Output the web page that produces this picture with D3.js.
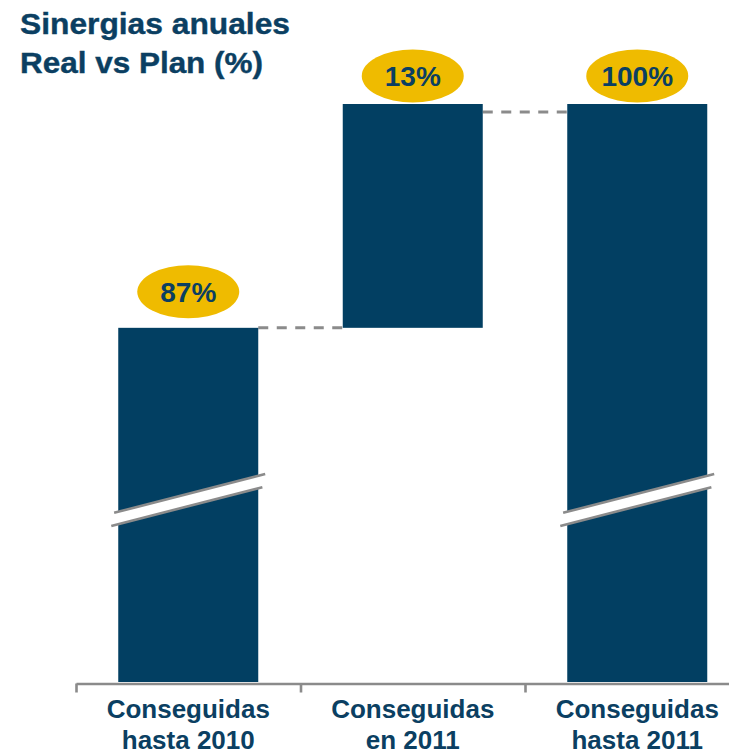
<!DOCTYPE html>
<html>
<head>
<meta charset="utf-8">
<script src="https://cdn.jsdelivr.net/npm/d3@7"></script>
<style>
  html, body { margin: 0; padding: 0; background: #ffffff; }
  svg { display: block; }
  text { font-family: "Liberation Sans", Arial, Helvetica, sans-serif; font-weight: bold; }
</style>
</head>
<body>
<svg id="chart" width="729" height="756"></svg>
<script>
// Annual synergies, actual vs plan (%), shown as a waterfall
const titleLines = ["Sinergias anuales", "Real vs Plan (%)"];
const categories = ["hasta2010", "en2011", "hasta2011"];
const categoryLabels = [["Conseguidas", "hasta 2010"], ["Conseguidas", "en 2011"], ["Conseguidas", "hasta 2011"]];
const values = [87, 13, 100];
const kinds = ["total", "delta", "total"];
const breakValue = 77; // the value axis is cut here for the two full bars

const navy = "#023f62";
const textNavy = "#0b3f62";
const gold = "#efbb00";
const grey = "#8b8b8b";

const svg = d3.select("#chart");
const plot = { left: 76, right: 749.5, top: 104, bottom: 682 };

// running base for each bar
let running = 0;
const bars = values.map((v, i) => {
  const base = kinds[i] === "delta" ? running : 0;
  const top = base + v;
  running = top;
  return { id: categories[i], value: v, base, top, kind: kinds[i], labels: categoryLabels[i], i };
});

const x = d3.scaleBand().domain(categories).range([plot.left, plot.right]).padding(0);
// piecewise scale: compressed below the break, full resolution above it
const y = d3.scaleLinear().domain([0, breakValue, 100]).range([plot.bottom, 500, plot.top]);
const barW = 140;
const cx = id => x(id) + x.bandwidth() / 2;

// title
svg.append("g").selectAll("text").data(titleLines).join("text")
  .attr("x", 20)
  .attr("y", (d, i) => 34 + i * 39)
  .attr("font-size", 29)
  .attr("fill", textNavy)
  .attr("stroke", textNavy)
  .attr("stroke-width", 0.4)
  .attr("textLength", (d, i) => i === 0 ? 270 : 243)
  .attr("lengthAdjust", "spacingAndGlyphs")
  .text(d => d);

// dashed connectors between consecutive bar tops
const connectors = bars.slice(0, -1).map((b, i) => ({ from: b, to: bars[i + 1], level: b.top, nudge: i === 0 ? 0 : 8 }));
svg.append("g").selectAll("line").data(connectors).join("line")
  .attr("x1", d => cx(d.from.id) + barW / 2)
  .attr("x2", d => cx(d.to.id) - barW / 2)
  .attr("y1", d => y(d.level) + d.nudge)
  .attr("y2", d => y(d.level) + d.nudge)
  .attr("stroke", grey)
  .attr("stroke-width", 3)
  .attr("stroke-dasharray", "10,8.5");

// bars
svg.append("g").selectAll("rect").data(bars).join("rect")
  .attr("x", d => cx(d.id) - barW / 2)
  .attr("y", d => y(d.top))
  .attr("width", barW)
  .attr("height", d => y(d.base) - y(d.top))
  .attr("fill", navy);

// axis-break marks on the bars that start at zero
const breaks = svg.append("g").selectAll("g").data(bars.filter(d => d.base < breakValue && d.top > breakValue)).join("g")
  .attr("transform", d => `translate(${cx(d.id)},${y(breakValue)}) rotate(-14.4)`);
breaks.append("polygon")
  .attr("points", "-75,-6 81,-6 75,6 -81,6")
  .attr("fill", "#ffffff");
breaks.append("line")
  .attr("x1", -75).attr("x2", 81).attr("y1", -6).attr("y2", -6)
  .attr("stroke", grey).attr("stroke-width", 2.6);
breaks.append("line")
  .attr("x1", -81).attr("x2", 75).attr("y1", 6).attr("y2", 6)
  .attr("stroke", grey).attr("stroke-width", 2.6);

// value badges
const badges = svg.append("g").selectAll("g").data(bars).join("g")
  .attr("transform", d => `translate(${cx(d.id)},${y(d.top) - (d.i === 0 ? 36 : 28)})`);
badges.append("ellipse")
  .attr("rx", 51).attr("ry", 26.5)
  .attr("fill", gold);
badges.append("text")
  .attr("text-anchor", "middle")
  .attr("y", 10)
  .attr("font-size", 28)
  .attr("fill", textNavy)
  .text(d => `${d.value}%`);

// category axis with ticks on the band edges
const edge = d3.scaleLinear().domain([0, categories.length]).range([plot.left, plot.right]);
const axis = svg.append("g")
  .attr("transform", `translate(0,${plot.bottom + 1.5})`)
  .call(d3.axisBottom(edge).tickValues(d3.range(categories.length + 1)).tickSize(9).tickSizeOuter(0).tickFormat(""));
axis.select(".domain").attr("stroke", grey).attr("stroke-width", 2.6);
axis.selectAll(".tick line").attr("stroke", grey).attr("stroke-width", 2.6);

// category labels
const cat = svg.append("g").selectAll("text").data(bars).join("text")
  .attr("text-anchor", "middle")
  .attr("font-size", 26)
  .attr("fill", textNavy)
  .attr("x", d => cx(d.id));
cat.selectAll("tspan").data(d => d.labels.map((t, k) => ({ t, k, x: cx(d.id) }))).join("tspan")
  .attr("x", d => d.x)
  .attr("y", d => 718 + d.k * 31)
  .text(d => d.t);
</script>
</body>
</html>
